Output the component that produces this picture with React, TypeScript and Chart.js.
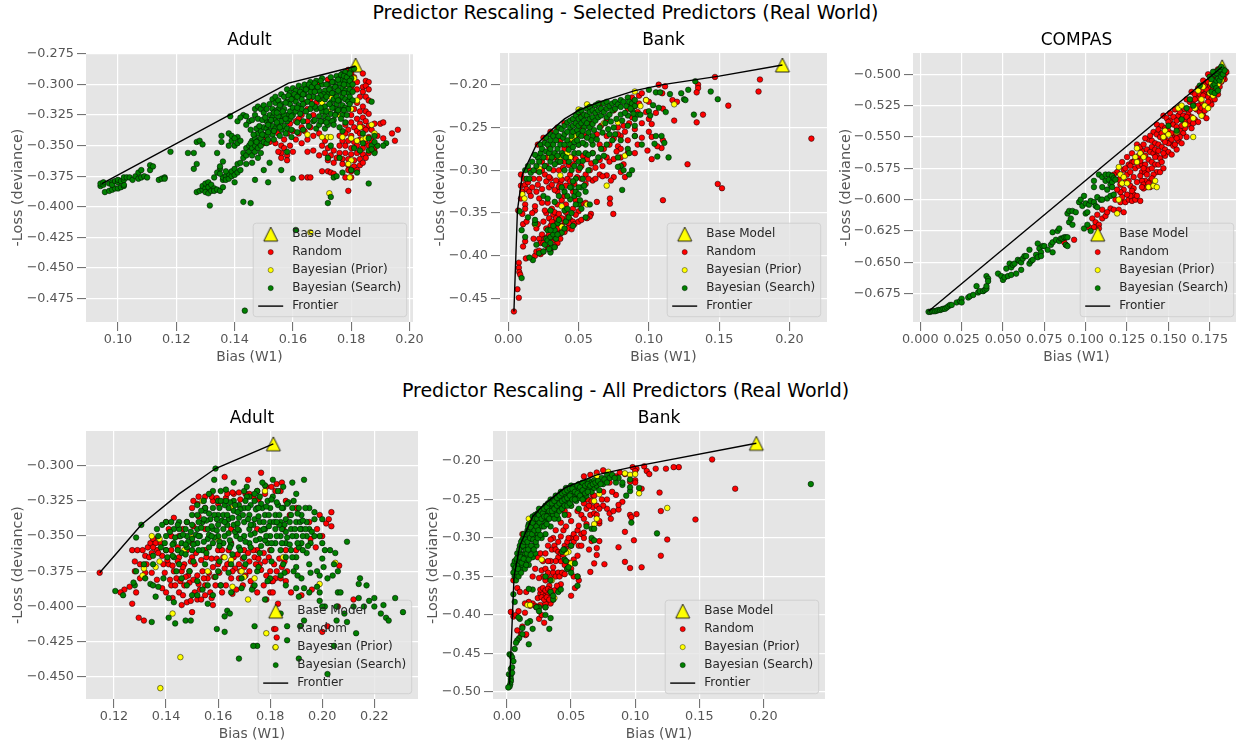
import React, { useEffect, useRef } from "react";
import { Chart, registerables } from "chart.js";

Chart.register(...registerables);

type Pt = number[];

// ---------- Selected predictors: Adult ----------
const adultSelBase: Pt[] = [[0.1815, -0.284]];
const adultSelFrontier: Pt[] = [[0.0945, -0.381], [0.1585, -0.2988], [0.17, -0.292], [0.1815, -0.285]];
const adultSelRandom: Pt[] = [
[.179,-.288],[.18,-.291],[.179,-.295],[.181,-.294],[.18,-.298],[.182,-.298],[.184,-.291],[.18,-.302],[.182,-.304],[.184,-.302],[.185,-.297],[.186,-.298],[.185,-.301],[.184,-.306],[.186,-.304],[.183,-.31],[.185,-.31],[.186,-.313],[.182,-.315],[.184,-.318],[.181,-.32],[.183,-.322],[.185,-.322],[.186,-.324],[.18,-.325],[.182,-.328],[.184,-.327],[.18,-.331],[.183,-.332],[.185,-.33],[.178,-.333],[.181,-.335],[.184,-.335],[.186,-.334],[.188,-.332],[.179,-.337],[.182,-.338],[.185,-.337],[.187,-.337],[.19,-.332],[.191,-.331],[.194,-.34],[.196,-.337],[.195,-.346],[.191,-.344],[.189,-.342],[.178,-.34],[.18,-.342],[.183,-.34],[.186,-.343],[.176,-.342],[.177,-.346],[.179,-.346],[.181,-.347],[.183,-.345],[.185,-.348],[.187,-.346],[.176,-.35],[.178,-.35],[.18,-.352],[.182,-.35],[.184,-.352],[.186,-.35],[.188,-.352],[.17,-.35],[.172,-.352],[.174,-.354],[.176,-.356],[.178,-.356],[.18,-.357],[.182,-.356],[.184,-.357],[.186,-.356],[.188,-.355],[.171,-.356],[.173,-.358],[.175,-.36],[.177,-.361],[.179,-.361],[.181,-.362],[.183,-.361],[.185,-.36],[.172,-.362],[.174,-.364],[.177,-.365],[.179,-.366],[.181,-.367],[.183,-.366],[.184,-.364],[.18,-.371],[.179,-.37],[.182,-.37],[.17,-.371],[.172,-.371],[.173,-.372],[.174,-.373],[.178,-.376],[.18,-.376],[.163,-.376],[.165,-.376],[.166,-.376],[.179,-.387],
[.152,-.347],[.154,-.348],[.156,-.35],[.157,-.345],[.158,-.34],[.16,-.338],[.162,-.34],[.164,-.338],[.166,-.335],[.161,-.345],[.163,-.348],[.165,-.345],[.167,-.342],[.169,-.34],[.157,-.352],[.159,-.35],[.156,-.356],[.158,-.358],[.155,-.355],[.16,-.355],[.158,-.362],[.156,-.36],[.163,-.335],[.165,-.33],[.163,-.325],[.165,-.32],[.167,-.325],[.161,-.33],[.165,-.355],[.167,-.354],[.169,-.358],[.171,-.346],[.166,-.312],[.168,-.305],[.168,-.315],[.155,-.34],[.151,-.344],[.15,-.348],[.159,-.332],[.162,-.328],[.164,-.315],[.169,-.3],[.172,-.296],[.176,-.297]
];
const adultSelPrior: Pt[] = [[.181,-.295],[.182,-.313],[.18,-.32],[.183,-.335],[.188,-.34],[.187,-.333],[.18,-.344],[.177,-.343],[.172,-.343],[.17,-.343],[.173,-.343],[.18,-.362],[.179,-.365],[.182,-.346],[.184,-.345],[.185,-.344],[.1725,-.389],[.166,-.421],[.1795,-.376],[.158,-.329],[.165,-.341],[.173,-.31],[.172,-.322],[.17,-.315],[.176,-.325],[.178,-.3]];
const adultSelSearch: Pt[] = [
[.094,-.383],[.094,-.381],[.095,-.382],[.095,-.38],[.0955,-.388],[.097,-.387],[.098,-.386],[.099,-.385],[.1,-.385],[.101,-.384],[.102,-.383],[.102,-.382],[.097,-.381],[.098,-.38],[.098,-.382],[.099,-.379],[.1,-.38],[.1,-.378],[.101,-.379],[.102,-.378],[.102,-.376],[.103,-.376],[.104,-.376],[.105,-.378],[.106,-.375],[.107,-.377],[.107,-.372],[.108,-.37],[.108,-.376],[.109,-.375],[.11,-.376],[.111,-.37],[.111,-.366],[.112,-.367],[.114,-.378],[.115,-.377],[.116,-.376],[.116,-.377],[.118,-.355],
[.127,-.388],[.128,-.387],[.129,-.386],[.129,-.383],[.13,-.385],[.13,-.381],[.13,-.388],[.131,-.38],[.131,-.384],[.131,-.389],[.132,-.387],[.132,-.382],[.133,-.385],[.133,-.387],[.134,-.386],[.135,-.387],[.136,-.384],[.136,-.378],[.136,-.376],[.137,-.375],[.137,-.378],[.138,-.377],[.138,-.373],[.139,-.375],[.139,-.371],[.14,-.374],[.14,-.369],[.141,-.372],[.141,-.365],[.142,-.364],[.142,-.37],[.135,-.369],[.134,-.372],[.133,-.376],[.135,-.373],[.137,-.371],
[.1435,-.485],[.143,-.396],[.1455,-.397],[.1315,-.399],[.172,-.397],[.173,-.392],[.161,-.419],[.186,-.381],[.16,-.377],[.1515,-.38],[.147,-.378],[.14,-.38],[.156,-.37],[.15,-.37],[.152,-.364],[.158,-.355],[.127,-.347],[.128,-.346],[.129,-.349],[.124,-.356],[.126,-.356],[.127,-.365],[.126,-.369],[.134,-.356],[.136,-.363],[.135,-.367],[.1355,-.342],[.1355,-.347],[.138,-.35],[.139,-.346],[.14,-.35],[.141,-.348],[.1385,-.326],[.187,-.314],[.192,-.348],[.191,-.35],[.187,-.35],[.189,-.35],[.186,-.354],[.188,-.356],[.184,-.34],[.188,-.342],[.18,-.37],[.174,-.376],[.175,-.375],[.144,-.365],[.146,-.364],[.148,-.36],
[.138,-.34],[.139,-.342],[.141,-.343],[.14,-.344],[.142,-.346],[.141,-.33],[.143,-.325],[.142,-.327],[.144,-.326],[.145,-.33],[.144,-.333],[.146,-.329],[.147,-.32],[.148,-.318],[.149,-.32],[.147,-.325],[.148,-.328],[.15,-.317],[.15,-.323],[.151,-.32],[.152,-.316],[.152,-.325],[.153,-.312],[.153,-.32],[.154,-.315],[.154,-.31],[.155,-.313],[.155,-.32],[.156,-.308],[.156,-.316],[.156,-.326],[.157,-.31],[.157,-.32],[.158,-.304],[.158,-.314],[.158,-.325],
[.143,-.36],[.143,-.356],[.144,-.352],[.144,-.358],[.145,-.35],[.145,-.355],[.146,-.346],[.146,-.352],[.146,-.358],[.147,-.344],[.147,-.35],[.147,-.355],[.148,-.34],[.148,-.346],[.148,-.352],[.149,-.338],[.149,-.344],[.149,-.35],[.149,-.356],[.15,-.335],[.15,-.341],[.15,-.347],[.151,-.33],[.151,-.336],[.151,-.342],[.151,-.348],[.152,-.331],[.152,-.338],[.153,-.327],[.153,-.334],[.153,-.341],[.154,-.322],[.154,-.329],[.154,-.336],[.155,-.326],[.155,-.333],[.156,-.33],[.156,-.337],[.157,-.325],[.157,-.334],[.158,-.33],[.158,-.336],[.159,-.307],[.159,-.316],[.159,-.322],[.159,-.328],[.16,-.303],[.16,-.311],[.16,-.319],[.16,-.325],[.161,-.305],[.161,-.314],[.161,-.322],[.162,-.301],[.162,-.309],[.162,-.317],[.163,-.304],[.163,-.312],[.163,-.32],[.164,-.3],[.164,-.308],[.165,-.303],[.165,-.314],[.166,-.298],[.166,-.306],[.166,-.32],[.167,-.302],[.167,-.31],[.167,-.33],[.168,-.297],[.168,-.32],[.168,-.336],[.169,-.305],[.169,-.312],[.169,-.326],[.169,-.333],[.17,-.295],[.17,-.3],[.17,-.322],[.17,-.33],[.171,-.305],[.171,-.312],[.171,-.318],[.171,-.326],[.171,-.336],[.172,-.3],[.172,-.308],[.172,-.328],[.172,-.333],[.173,-.294],[.173,-.303],[.173,-.315],[.173,-.324],[.174,-.298],[.174,-.307],[.174,-.312],[.174,-.319],[.174,-.329],[.175,-.293],[.175,-.302],[.175,-.31],[.175,-.316],[.175,-.323],[.176,-.299],[.176,-.306],[.176,-.313],[.176,-.32],[.177,-.291],[.177,-.296],[.177,-.303],[.177,-.31],[.177,-.317],[.177,-.325],[.178,-.29],[.178,-.297],[.178,-.305],[.178,-.312],[.178,-.319],[.179,-.3],[.179,-.307],[.179,-.314],[.18,-.288],[.18,-.295],[.179,-.32],[.181,-.287],[.172,-.36],[.173,-.35],[.186,-.344],[.181,-.352],[.183,-.354],[.178,-.331],[.177,-.372],[.176,-.36],
[.1455,-.337],[.1465,-.341],[.1475,-.336],[.1485,-.334],[.1495,-.329],[.1505,-.327],[.1515,-.333],[.1525,-.329],[.1535,-.323],[.1545,-.331],[.1555,-.317],[.1565,-.322],[.1575,-.315],[.1585,-.309],[.1595,-.312],[.1605,-.308],[.1615,-.31],[.1625,-.306],[.1635,-.308],[.1645,-.304],[.1655,-.3],[.1665,-.302],[.1675,-.299],[.1685,-.302],[.1695,-.297],[.1705,-.308],[.1715,-.3],[.1725,-.304],[.1735,-.298],[.1745,-.302],[.1755,-.296],[.1765,-.292],[.1775,-.293],[.1785,-.294],[.1795,-.291],[.1455,-.348],[.1475,-.347],[.1495,-.341],[.1515,-.339],[.1535,-.338],[.1555,-.335],[.1575,-.328],[.1595,-.326],[.1615,-.319],[.1635,-.316],[.1655,-.31],[.1675,-.306],[.1695,-.309],[.1715,-.31],[.1735,-.307],[.1755,-.305],[.1775,-.3],[.1795,-.297],[.1515,-.345],[.1535,-.345],[.1555,-.342],[.1575,-.34],[.1595,-.337],[.1615,-.331],[.1635,-.33],[.1655,-.326],[.1675,-.318],[.1695,-.319],[.1715,-.322],[.1735,-.319],[.1755,-.313],[.1775,-.307],[.1795,-.304],[.1595,-.343],[.1615,-.339],[.1635,-.337],[.1655,-.334],[.1675,-.329],[.1695,-.33],[.1715,-.331],[.1735,-.33],[.1755,-.321],[.1775,-.321],[.1795,-.31],[.1805,-.3],[.1805,-.306],[.1805,-.313],[.1795,-.316],[.177,-.338],[.184,-.348],[.187,-.353],[.176,-.335],[.182,-.372],[.188,-.347],[.174,-.333],[.1545,-.323],[.1625,-.324],[.1645,-.322],[.1665,-.316],[.1685,-.311],[.1725,-.316],[.1745,-.325],[.1765,-.328],[.1785,-.325]
];

// ---------- Selected predictors: Bank ----------
const bankSelBase: Pt[] = [[0.195, -0.177]];
const bankSelFrontier: Pt[] = [[.004,-.465],[.0065,-.347],[.01,-.305],[.02,-.27],[.03,-.254],[.04,-.24],[.05,-.23],[.065,-.22],[.09,-.207],[.11,-.2],[.15,-.19],[.195,-.177]];
const bankSelRandom: Pt[] = [
[.2156,-.263],[.179,-.194],[.178,-.208],[.147,-.191],[.1565,-.2245],[.149,-.316],[.152,-.321],[.1275,-.293],[.11,-.335],[.1385,-.235],[.134,-.244],[.118,-.242],[.135,-.2],[.135,-.204],[.134,-.209],[.107,-.2],[.1115,-.202],[.1095,-.21],[.1168,-.218],[.12,-.22],[.105,-.233],[.11,-.228],[.109,-.274],[.106,-.272],[.099,-.277],[.102,-.287],[.11,-.265],[.102,-.261],[.102,-.246],[.1,-.255],[.0723,-.333],[.0723,-.339],[.0747,-.351],[.063,-.337],[.0588,-.351],[.058,-.354],[.056,-.356],
[.009,-.305],[.011,-.31],[.009,-.318],[.012,-.317],[.014,-.314],[.01,-.325],[.013,-.322],[.015,-.325],[.009,-.333],[.012,-.34],[.012,-.345],[.007,-.347],[.01,-.351],[.0075,-.408],[.0075,-.414],[.0078,-.419],[.0085,-.422],[.0065,-.439],[.0075,-.449],[.004,-.465],[.0105,-.363],[.0105,-.389],[.012,-.383],[.0125,-.403],[.019,-.4],[.02,-.395],[.022,-.394],[.023,-.398],[.025,-.395],[.018,-.38],[.019,-.347],[.019,-.342],[.019,-.363],[.02,-.368],[.021,-.363],[.022,-.333],[.022,-.38],[.023,-.385],[.024,-.375],[.026,-.38],
[.025,-.36],[.027,-.35],[.028,-.338],[.029,-.32],[.03,-.31],[.031,-.345],[.032,-.352],[.033,-.36],[.034,-.356],[.03,-.365],[.031,-.372],[.028,-.378],[.032,-.382],[.034,-.375],[.036,-.37],[.035,-.385],[.037,-.38],[.038,-.365],[.04,-.36],[.042,-.355],[.044,-.358],[.046,-.36],[.047,-.363],[.05,-.36],[.052,-.358],[.05,-.348],[.048,-.335],[.046,-.325],[.035,-.325],[.037,-.315],[.034,-.312],[.038,-.335],[.04,-.33],[.042,-.31],[.044,-.305],[.05,-.3],[.052,-.295],[.055,-.305],[.058,-.3],[.06,-.312],[.062,-.31],[.065,-.305],[.067,-.295],[.07,-.285],[.072,-.29],[.075,-.308],[.07,-.306],[.067,-.307],[.08,-.302],[.083,-.308],[.082,-.293],[.075,-.287],[.078,-.272],[.08,-.275],[.085,-.28],[.09,-.28],[.092,-.27],[.095,-.262],[.09,-.26],[.085,-.265],[.083,-.255],[.08,-.26],[.078,-.25],[.09,-.252],[.095,-.245],[.1,-.24],[.098,-.232],[.09,-.225],[.088,-.215],[.093,-.213],[.095,-.21],[.087,-.222],[.085,-.228],[.098,-.218],[.1,-.22],[.093,-.222],[.015,-.3],[.018,-.31],[.02,-.3],[.022,-.31],[.017,-.32],[.02,-.325],[.024,-.29],[.021,-.27],[.025,-.262],[.03,-.255],[.035,-.25],[.028,-.285],[.04,-.29],[.045,-.285],[.05,-.27],[.055,-.26],[.06,-.28],[.065,-.27],[.07,-.26],[.042,-.275],[.036,-.29],[.032,-.3],[.026,-.305],[.04,-.245],[.05,-.233],[.058,-.226],[.065,-.222],[.07,-.24],[.075,-.23],
[.021,-.317],[.024,-.322],[.027,-.313],[.029,-.308],[.031,-.317],[.033,-.323],[.036,-.319],[.038,-.311],[.041,-.318],[.044,-.313],[.047,-.316],[.049,-.308],[.052,-.31],[.055,-.316],[.057,-.31],[.024,-.338],[.026,-.347],[.029,-.356],[.031,-.36],[.033,-.349],[.036,-.351],[.038,-.356],[.041,-.349],[.043,-.362],[.045,-.369],[.048,-.352],[.052,-.339],[.055,-.338],[.027,-.368],[.029,-.375],[.033,-.379],[.035,-.368],[.037,-.374],[.04,-.372],[.042,-.368],[.028,-.39],[.03,-.394],[.033,-.389],[.025,-.385],[.036,-.3],[.039,-.297],[.043,-.294],[.046,-.293],[.048,-.287],[.053,-.283],[.056,-.287],[.059,-.292],[.062,-.297],[.065,-.288],[.068,-.275],[.072,-.27],[.075,-.263],[.078,-.258],[.082,-.248],[.086,-.245],[.088,-.238],[.092,-.232],[.08,-.285],[.073,-.312],[.077,-.278],[.024,-.3],[.027,-.295],[.029,-.272],[.033,-.285],[.037,-.265],[.04,-.275],[.045,-.268],[.048,-.26],[.053,-.25],[.058,-.245],[.063,-.258],[.066,-.248],[.016,-.33],[.013,-.36],[.017,-.35],[.046,-.345],[.041,-.34],[.035,-.34]
];
const bankSelPrior: Pt[] = [[.118,-.223],[.09,-.208],[.098,-.218],[.094,-.225],[.083,-.283],[.07,-.318],[.068,-.245],[.078,-.244],[.056,-.223],[.05,-.229],[.03,-.284],[.037,-.285],[.044,-.285],[.037,-.306],[.047,-.26],[.045,-.263],[.019,-.363],[.038,-.366],[.038,-.342],[.056,-.34],[.01,-.328],[.0115,-.333],[.022,-.298],[.042,-.28]];
const bankSelSearch: Pt[] = [
[.133,-.196],[.128,-.206],[.144,-.208],[.149,-.217],[.123,-.21],[.115,-.211],[.125,-.217],[.126,-.218],[.1,-.206],[.105,-.209],[.108,-.209],[.103,-.224],[.107,-.227],[.112,-.232],[.1,-.231],[.101,-.236],[.132,-.235],[.105,-.26],[.109,-.26],[.111,-.268],[.104,-.269],[.106,-.284],[.114,-.285],[.095,-.27],[.09,-.26],[.085,-.275],[.086,-.28],[.078,-.285],[.08,-.295],[.081,-.323],[.086,-.305],[.088,-.3],[.082,-.3],[.078,-.296],
[.008,-.348],[.0095,-.37],[.012,-.378],[.014,-.355],[.0175,-.405],[.015,-.402],[.0095,-.426],[.019,-.362],[.019,-.358],[.02,-.387],[.022,-.397],[.025,-.395],[.026,-.387],[.027,-.38],[.028,-.382],[.03,-.378],[.03,-.396],[.031,-.39],[.032,-.375],[.033,-.37],[.034,-.38],[.035,-.362],[.036,-.358],[.038,-.373],[.04,-.368],[.041,-.36],[.043,-.355],[.045,-.35],[.046,-.365],[.05,-.34],[.052,-.345],[.055,-.355],[.058,-.34],[.025,-.33],[.028,-.333],[.03,-.347],[.033,-.337],[.04,-.347],[.042,-.345],[.044,-.334],[.045,-.32],[.047,-.33],[.048,-.325],[.05,-.328],[.052,-.32],[.055,-.325],[.053,-.31],[.057,-.3],[.06,-.28],[.062,-.29],[.064,-.285],[.066,-.275],[.068,-.283],[.07,-.27],[.072,-.258],[.074,-.265],[.076,-.258],[.08,-.265],[.085,-.248],[.09,-.248],[.092,-.235],[.09,-.24],
[.012,-.3],[.013,-.31],[.015,-.31],[.016,-.303],[.014,-.295],[.018,-.3],[.017,-.29],[.02,-.295],[.021,-.285],[.019,-.282],[.022,-.29],[.023,-.28],[.023,-.27],[.024,-.275],[.025,-.285],[.026,-.268],[.027,-.278],[.027,-.262],[.028,-.27],[.029,-.28],[.03,-.265],[.03,-.275],[.03,-.258],[.032,-.26],[.032,-.27],[.033,-.28],[.034,-.255],[.034,-.265],[.035,-.275],[.036,-.25],[.036,-.26],[.037,-.27],[.038,-.28],[.038,-.252],[.039,-.262],[.04,-.248],[.04,-.258],[.04,-.27],[.042,-.244],[.042,-.255],[.042,-.265],[.044,-.242],[.044,-.25],[.044,-.27],[.045,-.26],[.046,-.24],[.046,-.248],[.046,-.255],[.047,-.28],[.048,-.236],[.048,-.245],[.049,-.253],[.05,-.232],[.05,-.24],[.05,-.248],[.05,-.258],[.05,-.27],[.052,-.23],[.052,-.238],[.052,-.245],[.052,-.26],[.054,-.235],[.054,-.242],[.054,-.25],[.055,-.27],[.056,-.228],[.056,-.236],[.056,-.245],[.058,-.226],[.058,-.232],[.058,-.24],[.058,-.25],[.06,-.23],[.06,-.238],[.06,-.246],[.06,-.26],[.062,-.224],[.062,-.233],[.062,-.242],[.064,-.222],[.064,-.23],[.064,-.238],[.066,-.228],[.066,-.236],[.068,-.222],[.068,-.232],[.07,-.22],[.07,-.228],[.07,-.238],[.072,-.225],[.072,-.235],[.074,-.222],[.074,-.23],[.076,-.22],[.076,-.228],[.078,-.223],[.08,-.218],[.08,-.226],[.08,-.235],[.082,-.22],[.084,-.225],[.085,-.215],[.086,-.22],[.088,-.222],[.088,-.23],[.09,-.218],[.09,-.225],[.094,-.235],[.035,-.29],[.04,-.3],[.045,-.3],[.05,-.29],[.055,-.28],[.05,-.28],[.048,-.31],[.06,-.27],[.043,-.29],[.03,-.29],
[.053,-.254],[.057,-.256],[.061,-.253],[.065,-.25],[.069,-.245],[.073,-.243],[.077,-.24],[.081,-.242],[.085,-.236],[.089,-.234],[.071,-.252],[.067,-.256],[.063,-.264],[.059,-.265],[.075,-.25],[.083,-.233],[.087,-.228],[.047,-.267],[.043,-.276],[.039,-.283],[.035,-.283],[.031,-.285],[.026,-.295],[.022,-.302],[.029,-.298],[.033,-.293],[.037,-.29],[.041,-.285],[.053,-.268],[.056,-.262],[.046,-.273],[.049,-.265],[.051,-.297],[.053,-.289],[.057,-.282],[.046,-.313],[.05,-.32],[.054,-.318],[.047,-.295],[.044,-.32],[.04,-.325],[.042,-.33],[.036,-.33],[.038,-.32],[.048,-.34],[.051,-.335],[.028,-.37],[.03,-.385],[.035,-.375],[.03,-.37],[.032,-.365],[.033,-.39],[.029,-.392]
];

// ---------- Selected predictors: COMPAS ----------
const compasBase: Pt[] = [[0.1825, -0.494]];
const compasFrontier: Pt[] = [[.005,-.689],[.1825,-.494]];
const compasRandom: Pt[] = [
[.088,-.636],[.087,-.634],[.093,-.632],[.104,-.615],[.106,-.618],[.108,-.62],[.11,-.615],[.107,-.612],[.112,-.613],[.102,-.622],[.105,-.622],[.108,-.623],[.115,-.607],[.11,-.608],[.113,-.61],[.117,-.608],[.12,-.608],[.123,-.61],[.118,-.6],[.121,-.602],[.124,-.602],[.126,-.6],[.128,-.601],[.13,-.6],[.133,-.601],[.129,-.596],[.127,-.597],[.131,-.597],[.123,-.592],[.121,-.594],[.119,-.592],[.121,-.588],[.124,-.586],[.119,-.578],[.117,-.58],[.121,-.58],[.123,-.576],[.125,-.58],[.127,-.578],[.129,-.582],[.126,-.572],[.128,-.57],[.13,-.575],[.132,-.573],[.134,-.572],[.136,-.572],[.13,-.568],[.128,-.563],[.132,-.565],[.134,-.561],[.136,-.565],[.138,-.568],[.14,-.57],[.142,-.572],[.143,-.578],[.141,-.58],[.139,-.585],[.136,-.585],[.134,-.585],[.135,-.588],[.137,-.59],[.139,-.59],[.145,-.578],[.147,-.575],[.134,-.578],[.131,-.556],[.133,-.558],[.135,-.556],[.137,-.56],[.139,-.562],[.141,-.563],[.143,-.565],[.145,-.567],[.138,-.552],[.14,-.553],[.142,-.555],[.144,-.556],[.146,-.558],[.148,-.56],[.15,-.562],[.152,-.564],[.141,-.546],[.143,-.548],[.145,-.55],[.147,-.552],[.149,-.553],[.151,-.555],[.153,-.557],[.155,-.56],[.143,-.54],[.146,-.541],[.148,-.543],[.15,-.545],[.152,-.547],[.154,-.55],[.156,-.553],[.158,-.555],[.147,-.533],[.149,-.535],[.151,-.537],[.153,-.54],[.155,-.542],[.157,-.545],[.159,-.547],[.161,-.55],[.151,-.531],[.154,-.528],[.156,-.533],[.158,-.536],[.16,-.538],[.162,-.54],[.164,-.543],[.157,-.526],[.16,-.528],[.162,-.532],[.164,-.534],[.166,-.536],[.168,-.538],[.161,-.52],[.163,-.522],[.165,-.524],[.167,-.528],[.169,-.53],[.171,-.533],[.173,-.535],[.164,-.514],[.166,-.516],[.168,-.519],[.17,-.522],[.172,-.525],[.174,-.527],[.176,-.524],[.168,-.511],[.17,-.513],[.172,-.516],[.174,-.518],[.176,-.52],[.178,-.52],[.18,-.516],[.171,-.505],[.173,-.507],[.175,-.51],[.177,-.512],[.179,-.51],[.181,-.51],[.174,-.5],[.176,-.502],[.178,-.504],[.18,-.504],[.182,-.506],[.184,-.5],[.185,-.498],[.184,-.504],[.178,-.498],[.18,-.496],[.125,-.566],[.122,-.57],
[.127,-.589],[.129,-.591],[.126,-.585],[.131,-.586],[.133,-.581],[.136,-.578],[.138,-.576],[.14,-.575],[.142,-.566],[.144,-.572],[.146,-.57],[.148,-.565],[.15,-.555],[.152,-.552],[.154,-.556],[.148,-.549],[.144,-.544],[.146,-.547],[.15,-.538],[.153,-.534],[.155,-.537],[.157,-.53],[.159,-.533],[.161,-.534],[.163,-.537],[.165,-.539],[.163,-.528],[.166,-.52],[.168,-.525],[.17,-.527],[.172,-.529],[.174,-.522],[.169,-.516],[.171,-.517],[.173,-.512],[.175,-.515],[.177,-.516],[.172,-.509],[.174,-.506],[.176,-.508],[.178,-.509],[.177,-.503],[.179,-.501],[.181,-.502],[.183,-.503],[.135,-.575],[.137,-.58],[.14,-.583],[.133,-.569],[.131,-.569],[.129,-.57],[.127,-.573],[.124,-.575],[.12,-.584],[.125,-.596],[.128,-.593],[.122,-.598],[.135,-.591],[.134,-.59],[.138,-.587],[.136,-.551],[.139,-.549],[.14,-.558],[.142,-.56],[.144,-.561],[.147,-.563],[.148,-.554],[.155,-.548],[.157,-.55],[.16,-.543],[.158,-.541],[.155,-.551]
];
const compasPrior: Pt[] = [[.131,-.559],[.133,-.563],[.12,-.574],[.121,-.58],[.123,-.582],[.122,-.587],[.125,-.587],[.12,-.6],[.119,-.611],[.13,-.566],[.131,-.57],[.138,-.59],[.141,-.589],[.142,-.585],[.143,-.59],[.135,-.566],[.147,-.55],[.148,-.545],[.15,-.548],[.156,-.527],[.16,-.54],[.165,-.535],[.17,-.52],[.172,-.525],[.174,-.527],[.175,-.515],[.177,-.517],[.168,-.513],[.171,-.51],[.18,-.508],[.182,-.505],[.176,-.507],[.165,-.55],[.155,-.546],[.158,-.525],[.166,-.527],[.17,-.533]];
const compasSearch: Pt[] = [
[.005,-.6895],[.006,-.6895],[.007,-.689],[.008,-.689],[.009,-.689],[.01,-.6885],[.011,-.688],[.012,-.688],[.013,-.6875],[.014,-.687],[.015,-.687],[.016,-.686],[.017,-.685],[.018,-.684],[.019,-.684],[.022,-.682],[.024,-.681],[.025,-.679],[.025,-.682],[.029,-.678],[.03,-.677],[.032,-.676],[.034,-.669],[.035,-.674],[.036,-.673],[.038,-.673],[.039,-.672],[.04,-.671],[.04,-.669],[.04,-.661],[.041,-.663],[.041,-.665],
[.047,-.659],[.049,-.661],[.05,-.664],[.051,-.662],[.052,-.655],[.053,-.661],[.054,-.651],[.055,-.66],[.055,-.654],[.056,-.652],[.057,-.651],[.058,-.659],[.059,-.648],[.06,-.649],[.061,-.656],[.061,-.65],[.062,-.647],[.063,-.645],[.064,-.645],[.066,-.651],[.066,-.64],[.067,-.649],[.068,-.648],[.07,-.644],[.071,-.646],[.071,-.635],[.072,-.639],[.073,-.642],[.073,-.645],[.074,-.637],[.075,-.637],[.077,-.64],[.079,-.636],[.08,-.634],[.08,-.642],[.08,-.626],[.082,-.632],[.083,-.625],[.084,-.623],[.084,-.633],[.085,-.631],[.086,-.631],[.087,-.63],[.088,-.63],[.089,-.63],[.088,-.636],[.089,-.637],
[.089,-.611],[.09,-.609],[.09,-.618],[.091,-.615],[.092,-.609],[.092,-.62],[.094,-.61],[.096,-.602],[.097,-.6],[.098,-.605],[.099,-.597],[.1,-.603],[.1,-.611],[.101,-.61],[.102,-.604],[.103,-.601],[.105,-.602],[.106,-.605],[.107,-.606],[.099,-.623],[.101,-.62],[.103,-.625],[.107,-.598],[.109,-.6],[.11,-.6],[.105,-.585],[.105,-.59],[.108,-.58],[.11,-.582],[.11,-.59],[.112,-.58],[.112,-.585],[.113,-.592],[.113,-.599],[.114,-.58],[.114,-.584],[.115,-.588],[.115,-.597],[.116,-.581],[.116,-.586],[.116,-.59],[.117,-.583],[.117,-.596],[.118,-.584],
[.176,-.514],[.177,-.509],[.178,-.508],[.178,-.515],[.179,-.505],[.179,-.511],[.18,-.503],[.18,-.513],[.181,-.5],[.181,-.505],[.182,-.497],[.182,-.502],[.183,-.496],[.183,-.5],[.184,-.497],[.178,-.5],[.179,-.499],[.175,-.502],[.176,-.504],[.169,-.509],[.165,-.525],[.161,-.527],[.158,-.536],[.155,-.545],[.15,-.541],[.163,-.52],[.177,-.498],[.18,-.497],[.181,-.496],[.182,-.494]
];

// ---------- All predictors: Adult ----------
const adultAllBase: Pt[] = [[0.1812, -0.2845]];
const adultAllFrontier: Pt[] = [[.1145,-.376],[.1305,-.342],[.145,-.32],[.159,-.302],[.1812,-.2845]];
const adultAllRandom: Pt[] = [
[.1145,-.376],[.1765,-.305],[.1625,-.308],[.1715,-.31],[.2035,-.333],[.2015,-.341],[.2035,-.343],[.2065,-.371],[.127,-.398],[.1285,-.39],[.126,-.386],[.124,-.388],[.1225,-.39],[.127,-.36],[.129,-.36],[.128,-.368],[.13,-.37],[.128,-.375],[.13,-.38],[.132,-.376],[.131,-.36],[.132,-.364],[.133,-.358],[.134,-.355],[.135,-.352],[.136,-.355],[.137,-.351],[.138,-.355],[.14,-.34],[.141,-.345],[.143,-.337],[.14,-.36],[.142,-.36],[.139,-.37],[.141,-.37],[.143,-.375],[.145,-.365],[.147,-.37],[.149,-.375],[.151,-.37],[.15,-.365],[.148,-.36],[.146,-.375],[.144,-.38],[.142,-.385],[.14,-.39],[.145,-.39],[.147,-.385],[.149,-.383],[.151,-.39],[.153,-.388],[.155,-.385],[.157,-.39],[.159,-.385],[.152,-.395],[.155,-.392],[.148,-.397],[.146,-.399],[.15,-.404],[.1295,-.408],[.1315,-.41],[.158,-.399],[.156,-.38],[.154,-.375],[.152,-.378],[.158,-.372],[.16,-.37],[.162,-.365],[.164,-.36],[.166,-.365],[.168,-.37],[.17,-.372],[.172,-.368],[.174,-.365],[.176,-.37],[.178,-.368],[.18,-.375],[.182,-.38],[.184,-.38],[.186,-.382],[.18,-.39],[.1785,-.395],[.181,-.39],[.183,-.398],[.1815,-.416],[.1825,-.422],[.2,-.418],[.202,-.414],[.206,-.4],[.212,-.395],[.196,-.388],[.192,-.392],[.188,-.39],[.175,-.39],[.172,-.375],[.168,-.38],[.165,-.38],[.163,-.385],[.161,-.385],[.167,-.388],[.15,-.33],[.152,-.327],[.155,-.33],[.158,-.325],[.16,-.327],[.163,-.323],[.166,-.32],[.168,-.319],[.172,-.32],[.175,-.318],[.178,-.32],[.182,-.318],[.184,-.318],[.186,-.325],[.19,-.33],[.195,-.34],[.198,-.345],[.2,-.35],[.19,-.36],[.186,-.36],[.18,-.36],[.175,-.36],[.17,-.36],[.165,-.355],[.16,-.36],[.155,-.36],[.15,-.355],[.145,-.35],[.142,-.35],[.165,-.345],[.175,-.345],[.185,-.345],[.155,-.345],[.148,-.34],
[.1335,-.365],[.1365,-.36],[.1385,-.364],[.1405,-.367],[.1425,-.371],[.1445,-.368],[.1465,-.372],[.1485,-.378],[.1505,-.381],[.1525,-.384],[.1545,-.38],[.1565,-.376],[.1585,-.379],[.1605,-.376],[.1625,-.373],[.1645,-.369],[.1665,-.373],[.1685,-.375],[.1705,-.378],[.1725,-.382],[.1745,-.37],[.1765,-.374],[.1785,-.378],[.1805,-.382],[.1825,-.375],[.1845,-.372],[.1865,-.375],[.1395,-.376],[.1415,-.381],[.1435,-.385],[.1455,-.382],[.1475,-.379],[.1495,-.368],[.1515,-.362],[.1535,-.367],[.1555,-.365],[.1575,-.366],[.1595,-.366],[.1615,-.36],[.1635,-.37],[.1655,-.375],[.1675,-.363],[.1695,-.366],[.1715,-.362],[.1735,-.36],[.1755,-.366],[.1775,-.362],[.1795,-.365],[.1815,-.37],[.1835,-.366],[.1855,-.368],[.155,-.322],[.1505,-.325],[.1525,-.322],[.1575,-.322],[.1595,-.323],[.1635,-.32],[.1655,-.319],[.1685,-.324],[.1705,-.32],[.1735,-.322],[.1755,-.324],[.1785,-.315],[.1825,-.313],[.1805,-.315],[.1845,-.312],[.1875,-.335],[.1955,-.352],[.1975,-.358],[.2025,-.338],[.199,-.335],[.1525,-.336],[.1505,-.343],[.1445,-.358],[.1465,-.345],[.137,-.362],[.135,-.358],[.1345,-.362],[.1325,-.37],[.1345,-.376],[.1365,-.381],[.1385,-.387],[.1425,-.394],[.1465,-.392],[.1495,-.396],[.1535,-.395],[.1575,-.394],[.1615,-.39],[.1655,-.391],[.1695,-.385],[.1735,-.386],[.1775,-.385],[.181,-.382]
];
const adultAllPrior: Pt[] = [[.1345,-.35],[.1375,-.352],[.136,-.372],[.1375,-.368],[.1315,-.373],[.131,-.378],[.1425,-.405],[.1455,-.436],[.1378,-.458],[.1785,-.419],[.182,-.429],[.1715,-.395],[.1655,-.386],[.174,-.38],[.17,-.379],[.1625,-.365],[.165,-.367],[.199,-.384],[.205,-.369],[.185,-.365],[.178,-.318],[.154,-.325],[.15,-.351],[.147,-.36],[.156,-.375],[.169,-.375],[.16,-.352],[.165,-.33]];
const adultAllSearch: Pt[] = [
[.159,-.302],[.1305,-.342],[.1285,-.351],[.1205,-.389],[.1235,-.392],[.128,-.385],[.1275,-.383],[.1285,-.375],[.132,-.38],[.1315,-.37],[.135,-.364],[.134,-.384],[.135,-.385],[.137,-.386],[.136,-.393],[.1345,-.411],[.141,-.394],[.143,-.397],[.141,-.408],[.1435,-.412],[.1475,-.41],[.1495,-.41],[.15,-.392],[.152,-.392],[.156,-.398],[.158,-.392],[.1595,-.416],[.1625,-.407],[.1635,-.403],[.1645,-.405],[.1625,-.418],[.168,-.437],[.174,-.414],[.175,-.428],[.1735,-.428],[.1915,-.414],[.193,-.41],[.191,-.437],[.202,-.448],[.1865,-.424],[.184,-.405],[.1865,-.414],[.2055,-.41],[.2055,-.4],[.2085,-.405],[.2095,-.411],[.213,-.419],[.2045,-.428],[.214,-.394],[.212,-.4],[.216,-.4],[.218,-.396],[.22,-.394],[.2235,-.399],[.2225,-.405],[.2245,-.408],[.2255,-.41],[.228,-.394],[.231,-.404],[.2145,-.38],[.214,-.384],[.217,-.385],[.22,-.4],[.206,-.39],[.207,-.39],[.201,-.4],[.199,-.396],[.2,-.4],[.198,-.386],[.199,-.39],[.195,-.39],[.193,-.387],[.191,-.393],[.19,-.387],[.186,-.385],[.178,-.395],[.173,-.388],[.169,-.387],[.165,-.39],[.161,-.385],[.156,-.385],[.152,-.382],[.148,-.385],[.146,-.38],
[.195,-.345],[.197,-.338],[.196,-.347],[.199,-.35],[.2,-.355],[.201,-.36],[.203,-.36],[.205,-.362],[.2095,-.354],[.2,-.366],[.198,-.375],[.195,-.37],[.19,-.372],[.192,-.38],[.199,-.378],[.202,-.38],[.204,-.378],[.206,-.375],[.193,-.31],[.1885,-.312],[.189,-.325],[.191,-.33],[.195,-.33],[.197,-.333],[.2,-.338],[.185,-.315],[.181,-.31],[.178,-.314],[.175,-.318],[.172,-.322],[.17,-.318],[.166,-.325],[.163,-.317],[.16,-.325],[.158,-.318],[.155,-.332],[.15,-.335],[.145,-.34],[.14,-.34],[.137,-.35],
[.14,-.35],[.14,-.36],[.143,-.345],[.143,-.355],[.143,-.365],[.145,-.345],[.146,-.355],[.146,-.362],[.148,-.34],[.148,-.35],[.148,-.358],[.15,-.342],[.15,-.352],[.15,-.36],[.152,-.335],[.152,-.345],[.152,-.355],[.153,-.35],[.154,-.34],[.154,-.36],[.155,-.33],[.156,-.345],[.156,-.352],[.157,-.338],[.158,-.33],[.158,-.345],[.158,-.355],[.16,-.335],[.16,-.342],[.16,-.35],[.161,-.325],[.162,-.335],[.162,-.345],[.162,-.355],[.164,-.33],[.164,-.338],[.164,-.348],[.165,-.356],[.166,-.332],[.166,-.342],[.167,-.35],[.168,-.328],[.168,-.337],[.168,-.346],[.168,-.358],[.17,-.33],[.17,-.34],[.17,-.35],[.171,-.322],[.172,-.335],[.172,-.345],[.172,-.355],[.174,-.325],[.174,-.338],[.174,-.348],[.175,-.33],[.176,-.322],[.176,-.34],[.176,-.352],[.176,-.362],[.177,-.33],[.178,-.335],[.178,-.345],[.179,-.325],[.179,-.355],[.18,-.33],[.18,-.34],[.18,-.35],[.181,-.322],[.182,-.335],[.182,-.345],[.182,-.355],[.183,-.328],[.184,-.34],[.184,-.35],[.184,-.36],[.185,-.33],[.186,-.338],[.186,-.347],[.186,-.355],[.187,-.326],[.188,-.335],[.188,-.345],[.188,-.36],[.19,-.34],[.19,-.35],[.19,-.365],[.192,-.335],[.192,-.345],[.192,-.355],[.194,-.34],[.194,-.35],[.194,-.362],[.197,-.35],[.185,-.37],[.175,-.375],[.165,-.37],[.155,-.37],[.145,-.37],[.135,-.37],[.16,-.375],[.18,-.38],[.17,-.365],[.138,-.358],[.142,-.34],[.152,-.328],[.178,-.353],[.186,-.365],[.191,-.358],
[.1415,-.347],[.1435,-.351],[.1455,-.35],[.1475,-.345],[.1495,-.347],[.1515,-.349],[.1535,-.344],[.1555,-.339],[.1575,-.343],[.1595,-.346],[.1615,-.339],[.1635,-.342],[.1655,-.337],[.1675,-.341],[.1695,-.335],[.1715,-.338],[.1735,-.342],[.1755,-.336],[.1775,-.34],[.1795,-.343],[.1815,-.34],[.1835,-.335],[.1855,-.342],[.1875,-.34],[.1895,-.345],[.1915,-.34],[.1935,-.345],[.1955,-.355],[.1425,-.356],[.1445,-.36],[.1465,-.349],[.1485,-.354],[.1505,-.356],[.1525,-.35],[.1545,-.354],[.1565,-.349],[.1585,-.351],[.1605,-.354],[.1625,-.35],[.1645,-.353],[.1665,-.347],[.1685,-.352],[.1705,-.354],[.1725,-.349],[.1745,-.353],[.1765,-.346],[.1785,-.35],[.1805,-.355],[.1825,-.35],[.1845,-.345],[.1865,-.351],[.1885,-.35],[.1905,-.355],[.1925,-.35],[.1945,-.357],[.1425,-.364],[.1475,-.363],[.1525,-.36],[.1565,-.358],[.1605,-.357],[.1645,-.358],[.1685,-.36],[.1725,-.358],[.1765,-.357],[.1805,-.36],[.1845,-.355],[.1885,-.365],[.1925,-.36],[.1535,-.332],[.1565,-.334],[.1585,-.335],[.1605,-.33],[.1625,-.328],[.1645,-.326],[.1665,-.328],[.1685,-.331],[.1705,-.325],[.1725,-.328],[.1745,-.331],[.1765,-.327],[.1785,-.329],[.1805,-.324],[.1825,-.326],[.1845,-.33],[.1865,-.327],[.1885,-.33],[.1905,-.334],[.1925,-.339],[.1935,-.33],[.1545,-.338],[.1595,-.338],[.1635,-.335],[.1675,-.333],[.1715,-.33],[.1755,-.33],[.1795,-.335],[.1835,-.342],[.1875,-.356],[.1915,-.345],[.1725,-.342],[.1775,-.345],[.1825,-.34],[.1675,-.345],[.1625,-.34],[.1575,-.35],[.1525,-.34],[.1475,-.356],[.1445,-.342],[.1365,-.345],[.1385,-.342],[.1395,-.355],[.1405,-.365],[.1505,-.368],[.1555,-.362],[.1605,-.368],[.1655,-.363],[.1705,-.37],[.1755,-.372],[.1805,-.368],[.1855,-.376],[.1905,-.378],[.1955,-.376],[.2005,-.372],[.2045,-.37],[.189,-.375],[.184,-.378],[.179,-.382],[.174,-.385],[.169,-.38],[.164,-.376],[.159,-.379],[.154,-.388],[.149,-.375],[.144,-.375],[.139,-.38],[.166,-.312],[.171,-.315],[.177,-.312],[.183,-.318],[.163,-.325],[.19,-.32],[.161,-.318],[.1585,-.31],[.1565,-.32],[.1545,-.325],[.174,-.32]
];

// ---------- All predictors: Bank ----------
const bankAllBase: Pt[] = [[0.1945, -0.177]];
const bankAllFrontier: Pt[] = [[.002,-.49],[.003,-.45],[.0055,-.35],[.01,-.31],[.02,-.272],[.03,-.255],[.045,-.235],[.07,-.218],[.1,-.207],[.1945,-.177]];
const bankAllRandom: Pt[] = [
[.16,-.198],[.178,-.236],[.147,-.276],[.134,-.208],[.13,-.208],[.124,-.21],[.116,-.21],[.107,-.207],[.109,-.213],[.111,-.217],[.101,-.21],[.098,-.208],[.1,-.213],[.119,-.241],[.12,-.265],[.125,-.302],[.12,-.323],[.096,-.27],[.097,-.273],[.101,-.269],[.105,-.338],[.096,-.339],[.092,-.331],[.087,-.312],[.092,-.292],[.099,-.303],[.076,-.334],[.068,-.333],[.065,-.344],[.07,-.322],[.072,-.304],[.064,-.315],[.066,-.304],[.07,-.313],[.072,-.281],[.078,-.262],[.081,-.275],[.08,-.268],[.083,-.265],[.087,-.263],[.09,-.253],[.087,-.257],[.085,-.244],[.1,-.225],[.1,-.228],[.105,-.236],[.092,-.217],[.096,-.227],
[.003,-.396],[.005,-.402],[.007,-.4],[.009,-.395],[.008,-.42],[.011,-.425],[.012,-.415],[.0145,-.426],[.015,-.425],[.02,-.385],[.022,-.388],[.023,-.39],[.025,-.405],[.027,-.4],[.029,-.41],[.017,-.383],[.018,-.388],[.014,-.385],[.014,-.397],[.026,-.387],[.03,-.39],[.024,-.378],[.026,-.372],[.028,-.372],[.03,-.375],[.032,-.372],[.034,-.385],[.036,-.38],[.03,-.385],[.033,-.362],[.03,-.355],[.028,-.35],[.025,-.352],[.027,-.342],[.03,-.34],[.032,-.345],[.034,-.352],[.036,-.345],[.038,-.35],[.04,-.345],[.042,-.36],[.04,-.368],[.05,-.375],[.053,-.365],[.056,-.355],[.055,-.35],[.052,-.35],[.05,-.34],[.048,-.332],[.052,-.328],[.055,-.323],[.045,-.335],[.042,-.33],[.04,-.325],[.038,-.33],[.036,-.338],[.035,-.315],[.037,-.31],[.04,-.305],[.042,-.298],[.045,-.31],[.047,-.305],[.05,-.3],[.052,-.295],[.055,-.29],[.058,-.295],[.06,-.293],[.056,-.31],[.058,-.31],[.06,-.3],[.062,-.282],[.065,-.27],[.067,-.26],[.068,-.268],[.07,-.27],[.072,-.278],[.075,-.258],[.078,-.25],[.082,-.24],[.075,-.24],[.08,-.228],[.085,-.22],[.088,-.215],[.075,-.212],[.07,-.215],[.065,-.218],[.06,-.22],[.045,-.265],[.048,-.27],[.05,-.278],[.055,-.265],[.06,-.255],[.063,-.25],[.067,-.245],[.005,-.355],[.008,-.365],[.01,-.37],[.02,-.35],[.022,-.34],[.024,-.325],[.026,-.32],[.015,-.37],[.012,-.295],
[.026,-.367],[.028,-.365],[.03,-.368],[.032,-.366],[.034,-.368],[.027,-.377],[.029,-.38],[.031,-.377],[.033,-.38],[.035,-.372],[.037,-.368],[.039,-.362],[.041,-.35],[.043,-.345],[.045,-.347],[.047,-.34],[.038,-.315],[.04,-.318],[.042,-.32],[.044,-.322],[.046,-.314],[.048,-.3],[.05,-.31],[.052,-.305],[.054,-.3],[.056,-.284],[.058,-.27],[.06,-.275],[.062,-.262],[.064,-.258],[.066,-.252],[.068,-.245],[.07,-.258],[.072,-.262],[.074,-.25],[.042,-.28],[.044,-.29],[.046,-.285],[.038,-.29],[.036,-.3],[.034,-.302],[.032,-.31],[.03,-.32],[.028,-.33],[.034,-.33],[.032,-.33]
];
const bankAllPrior: Pt[] = [[.125,-.261],[.103,-.242],[.096,-.218],[.092,-.216],[.079,-.214],[.07,-.22],[.068,-.252],[.07,-.275],[.068,-.282],[.05,-.258],[.048,-.318],[.046,-.319],[.05,-.333],[.027,-.328],[.035,-.355],[.037,-.378],[.016,-.387],[.018,-.387],[.017,-.275],[.04,-.245],[.1,-.217],[.072,-.243]];
const bankAllSearch: Pt[] = [
[.237,-.23],[.117,-.294],[.097,-.28],[.096,-.239],[.096,-.234],[.103,-.235],[.093,-.245],[.09,-.231],[.087,-.222],[.085,-.228],[.096,-.224],[.09,-.228],[.066,-.3],[.068,-.303],[.066,-.288],[.068,-.288],[.062,-.285],[.055,-.35],[.053,-.333],[.055,-.362],[.05,-.345],[.047,-.34],[.045,-.328],[.043,-.318],[.045,-.315],[.05,-.31],[.03,-.39],[.033,-.418],[.034,-.404],[.02,-.418],[.018,-.408],[.016,-.41],[.012,-.417],[.012,-.425],[.017,-.438],[.0095,-.43],[.008,-.433],[.007,-.436],[.006,-.444],[.01,-.405],[.009,-.403],[.006,-.383],[.005,-.373],[.025,-.39],[.023,-.39],[.025,-.395],[.03,-.4],[.036,-.38],[.034,-.37],[.036,-.375],[.04,-.37],[.042,-.367],[.034,-.355],[.03,-.35],[.02,-.367],[.017,-.366],
[.002,-.451],[.003,-.452],[.004,-.455],[.005,-.46],[.003,-.47],[.004,-.468],[.0015,-.477],[.003,-.478],[.004,-.475],[.003,-.483],[.003,-.486],[.0025,-.49],[.002,-.493],[.001,-.494],
[.005,-.335],[.006,-.34],[.006,-.33],[.005,-.345],[.006,-.35],[.007,-.355],[.007,-.338],[.008,-.33],[.008,-.345],[.008,-.32],[.009,-.335],[.009,-.35],[.009,-.325],[.01,-.31],[.01,-.32],[.01,-.33],[.01,-.34],[.011,-.345],[.012,-.302],[.012,-.312],[.012,-.322],[.012,-.335],[.013,-.295],[.014,-.31],[.014,-.32],[.014,-.33],[.014,-.34],[.015,-.3],[.016,-.29],[.016,-.31],[.016,-.325],[.017,-.282],[.017,-.3],[.017,-.335],[.018,-.292],[.018,-.315],[.019,-.28],[.019,-.302],[.02,-.272],[.02,-.29],[.02,-.31],[.02,-.325],[.021,-.28],[.021,-.298],[.022,-.27],[.022,-.288],[.022,-.32],[.023,-.31],[.024,-.268],[.024,-.28],[.024,-.295],[.025,-.262],[.026,-.27],[.026,-.285],[.027,-.3],[.028,-.262],[.028,-.275],[.03,-.258],[.03,-.268],[.03,-.28],[.03,-.295],[.032,-.255],[.032,-.265],[.032,-.275],[.034,-.25],[.034,-.26],[.034,-.27],[.034,-.285],[.036,-.25],[.036,-.258],[.036,-.27],[.038,-.245],[.038,-.255],[.038,-.265],[.04,-.245],[.04,-.252],[.04,-.262],[.04,-.275],[.042,-.24],[.042,-.25],[.042,-.258],[.044,-.24],[.044,-.248],[.044,-.256],[.045,-.27],[.046,-.235],[.046,-.245],[.046,-.252],[.048,-.235],[.048,-.242],[.048,-.25],[.05,-.232],[.05,-.24],[.05,-.248],[.05,-.258],[.052,-.233],[.052,-.245],[.054,-.235],[.054,-.243],[.054,-.252],[.056,-.23],[.056,-.238],[.056,-.248],[.056,-.262],[.058,-.232],[.058,-.242],[.06,-.23],[.06,-.238],[.06,-.248],[.062,-.228],[.062,-.236],[.062,-.245],[.064,-.226],[.064,-.235],[.066,-.228],[.066,-.24],[.068,-.225],[.068,-.235],[.07,-.232],[.072,-.238],[.074,-.222],[.075,-.23],[.078,-.218],[.08,-.222],[.082,-.218],[.084,-.222],
[.0075,-.327],[.0085,-.34],[.0095,-.315],[.0105,-.325],[.011,-.305],[.0115,-.332],[.0125,-.31],[.013,-.327],[.0135,-.305],[.0145,-.302],[.0145,-.316],[.015,-.335],[.0155,-.295],[.0155,-.32],[.016,-.305],[.0165,-.285],[.0165,-.315],[.017,-.328],[.0175,-.295],[.018,-.3],[.0185,-.286],[.0185,-.322],[.019,-.31],[.0195,-.295],[.02,-.28],[.0205,-.302],[.021,-.315],[.0215,-.29],[.022,-.275],[.0225,-.305],[.023,-.285],[.0235,-.275],[.024,-.3],[.0245,-.29],[.025,-.27],[.0255,-.28],[.026,-.296],[.0265,-.265],[.027,-.275],[.0275,-.285],[.028,-.268],[.029,-.262],[.029,-.272],[.029,-.285],[.031,-.26],[.031,-.272],[.031,-.282],[.033,-.255],[.033,-.265],[.033,-.275],[.035,-.255],[.035,-.265],[.037,-.252],[.037,-.262],[.037,-.275],[.039,-.248],[.039,-.258],[.039,-.27],[.041,-.245],[.041,-.255],[.041,-.265],[.043,-.242],[.043,-.252],[.043,-.262],[.045,-.24],[.045,-.25],[.045,-.258],[.047,-.238],[.047,-.248],[.047,-.258],[.049,-.236],[.049,-.245],[.049,-.255],[.051,-.236],[.051,-.25],[.053,-.24],[.053,-.25],[.055,-.232],[.055,-.242],[.057,-.234],[.057,-.245],[.059,-.228],[.059,-.238],[.059,-.25],[.061,-.232],[.061,-.242],[.063,-.23],[.063,-.24],[.065,-.232],[.067,-.23],[.069,-.228],[.071,-.226],[.073,-.23],[.076,-.224],[.078,-.228],[.044,-.315],[.046,-.33],[.048,-.338]
];

// ---------- Tick values ----------
const adultSelXTicks = [0.1, 0.12, 0.14, 0.16, 0.18, 0.2];
const adultSelYTicks = [-0.275, -0.3, -0.325, -0.35, -0.375, -0.4, -0.425, -0.45, -0.475];
const bankSelXTicks = [0, 0.05, 0.1, 0.15, 0.2];
const bankSelYTicks = [-0.2, -0.25, -0.3, -0.35, -0.4, -0.45];
const compasXTicks = [0, 0.025, 0.05, 0.075, 0.1, 0.125, 0.15, 0.175];
const compasYTicks = [-0.5, -0.525, -0.55, -0.575, -0.6, -0.625, -0.65, -0.675];
const adultAllXTicks = [0.12, 0.14, 0.16, 0.18, 0.2, 0.22];
const adultAllYTicks = [-0.3, -0.325, -0.35, -0.375, -0.4, -0.425, -0.45];
const bankAllXTicks = [0, 0.05, 0.1, 0.15, 0.2];
const bankAllYTicks = [-0.2, -0.25, -0.3, -0.35, -0.4, -0.45, -0.5];

const FONT = '"DejaVu Sans"';
const AXIS_W = 86;
const AXIS_H = 46;
const TITLE_H = 24;
const PAD_R = 24;

type PanelCfg = {
  title: string; left: number; top: number; w: number; h: number;
  xr: number[]; yr: number[]; xt: number[]; yt: number[]; xd: number; yd: number; yTitleOff: number;
  base: Pt[]; random: Pt[]; prior: Pt[]; search: Pt[]; frontier: Pt[];
};

const panels: PanelCfg[] = [
  { title: "Adult", left: 86, top: 53, w: 327, h: 269, xr: [0.08902, 0.2012], yr: [-0.4943, -0.2742], xt: adultSelXTicks, yt: adultSelYTicks, xd: 2, yd: 3, yTitleOff: 68.3, base: adultSelBase, random: adultSelRandom, prior: adultSelPrior, search: adultSelSearch, frontier: adultSelFrontier },
  { title: "Bank", left: 500, top: 53, w: 327, h: 269, xr: [-0.0059, 0.2267], yr: [-0.4773, -0.163], xt: bankSelXTicks, yt: bankSelYTicks, xd: 2, yd: 2, yTitleOff: 61, base: bankSelBase, random: bankSelRandom, prior: bankSelPrior, search: bankSelSearch, frontier: bankSelFrontier },
  { title: "COMPAS", left: 913, top: 53, w: 327, h: 269, xr: [-0.00441, 0.1933], yr: [-0.6976, -0.483], xt: compasXTicks, yt: compasYTicks, xd: 3, yd: 3, yTitleOff: 68, base: compasBase, random: compasRandom, prior: compasPrior, search: compasSearch, frontier: compasFrontier },
  { title: "Adult", left: 86, top: 431, w: 332, h: 268, xr: [0.10925, 0.23677], yr: [-0.4657, -0.27536], xt: adultAllXTicks, yt: adultAllYTicks, xd: 2, yd: 3, yTitleOff: 68.2, base: adultAllBase, random: adultAllRandom, prior: adultAllPrior, search: adultAllSearch, frontier: adultAllFrontier },
  { title: "Bank", left: 493, top: 431, w: 332, h: 268, xr: [-0.01092, 0.24805], yr: [-0.50909, -0.16104], xt: bankAllXTicks, yt: bankAllYTicks, xd: 2, yd: 2, yTitleOff: 60.6, base: bankAllBase, random: bankAllRandom, prior: bankAllPrior, search: bankAllSearch, frontier: bankAllFrontier },
];

function triangleSprite(size: number): HTMLCanvasElement {
  const c = document.createElement("canvas");
  c.width = size + 4; c.height = size + 4;
  const g = c.getContext("2d")!;
  g.beginPath();
  g.moveTo(c.width / 2, 2); g.lineTo(c.width - 2, c.height - 2); g.lineTo(2, c.height - 2); g.closePath();
  g.fillStyle = "#ffff00"; g.fill();
  g.strokeStyle = "#111"; g.lineWidth = 0.9; g.stroke();
  return c;
}

const panelBackground = {
  id: "panelBackground",
  beforeDraw(chart: any) {
    const { ctx, chartArea: a } = chart;
    ctx.save();
    ctx.fillStyle = "#e5e5e5";
    ctx.fillRect(a.left, a.top, a.right - a.left, a.bottom - a.top);
    ctx.restore();
  },
};

const LEGEND_W = 153.5, LEGEND_H = 93.5;
const legendOrigin = (a: any) => [a.right - 6.3 - LEGEND_W, a.bottom - 5.3 - LEGEND_H];

const insetLegend = {
  id: "insetLegend",
  // The frame lies under the points, the entries over them, as in the reference.
  beforeDatasetsDraw(chart: any) {
    const { ctx, chartArea: a } = chart;
    const [x0, y0] = legendOrigin(a);
    ctx.save();
    ctx.beginPath();
    ctx.roundRect(x0, y0, LEGEND_W, LEGEND_H, 3);
    ctx.fillStyle = "rgba(229,229,229,0.8)"; ctx.fill();
    ctx.strokeStyle = "rgba(204,204,204,0.8)"; ctx.lineWidth = 1; ctx.stroke();
    ctx.restore();
  },
  afterDatasetsDraw(chart: any) {
    const { ctx, chartArea: a } = chart;
    const [x0, y0] = legendOrigin(a);
    ctx.save();
    const hx = x0 + 17.5, tx = x0 + 39;
    ctx.font = `12px ${FONT}`;
    ctx.textBaseline = "middle";
    ctx.textAlign = "left";
    chart.data.datasets.forEach((d: any, i: number) => {
      const y = y0 + 10.9 + i * 18;
      ctx.fillStyle = "#262626";
      ctx.fillText(d.label, tx, y);
      if (d.label === "Frontier") {
        ctx.beginPath(); ctx.moveTo(hx - 12.5, y); ctx.lineTo(hx + 12.5, y);
        ctx.strokeStyle = "#000"; ctx.lineWidth = 1.4; ctx.stroke();
      } else if (d.label === "Base Model") {
        ctx.drawImage(d.pointStyle, hx - d.pointStyle.width / 2, y - d.pointStyle.height / 2);
      } else {
        ctx.beginPath(); ctx.arc(hx, y, 2.6, 0, Math.PI * 2);
        ctx.fillStyle = d.backgroundColor; ctx.fill();
        ctx.strokeStyle = "rgba(0,0,0,0.8)"; ctx.lineWidth = 0.5; ctx.stroke();
      }
    });
    ctx.restore();
  },
};

const toXY = (list: Pt[]) => list.map(([x, y]) => ({ x, y }));

function Panel({ cfg }: { cfg: PanelCfg }) {
  const ref = useRef<HTMLCanvasElement>(null);
  useEffect(() => {
    const tri = triangleSprite(14);
    const dot = (label: string, color: string, data: Pt[], order: number) => ({
      type: "scatter" as const, label, data: toXY(data), order, backgroundColor: color,
      borderColor: "rgba(0,0,0,0.85)", borderWidth: 0.6, pointRadius: 2.8, pointHoverRadius: 2.8,
    });
    const chart = new Chart(ref.current!, {
      type: "scatter",
      data: {
        datasets: [
          { type: "scatter", label: "Base Model", data: toXY(cfg.base), order: 5, pointStyle: tri as any, pointRadius: 7, backgroundColor: "#ffff00", borderColor: "#222" },
          dot("Random", "#ff0000", cfg.random, 4),
          dot("Bayesian (Prior)", "#ffff00", cfg.prior, 3),
          dot("Bayesian (Search)", "#008000", cfg.search, 2),
          { type: "scatter", label: "Frontier", data: toXY(cfg.frontier), order: 1, showLine: true, pointRadius: 0, borderColor: "#000", borderWidth: 1.4, backgroundColor: "#000" },
        ] as any,
      },
      options: {
        responsive: false,
        animation: false,
        layout: { padding: { left: 0, top: 0, right: PAD_R, bottom: 0 } },
        plugins: {
          legend: { display: false },
          tooltip: { enabled: false },
          title: { display: true, text: cfg.title, color: "#000", fullSize: false, font: { family: FONT, size: 17, weight: "normal", lineHeight: 1 } as any, padding: { top: 3, bottom: 4 } },
        },
        scales: {
          x: {
            type: "linear", min: cfg.xr[0], max: cfg.xr[1],
            afterBuildTicks: (s: any) => { s.ticks = cfg.xt.map((value) => ({ value })); },
            afterFit: (s: any) => { s.height = AXIS_H; },
            border: { display: false },
            grid: { color: "#ffffff", lineWidth: 1.2, tickColor: "#666666", tickLength: 9, tickWidth: 1 },
            ticks: { color: "#555555", font: { family: FONT, size: 12.8 }, padding: 1, maxRotation: 0, autoSkip: false, callback: (v: any) => Number(v).toFixed(cfg.xd) },
            title: { display: true, text: "Bias (W1)", color: "#555555", font: { family: FONT, size: 13.8 }, padding: { top: 0, bottom: 2.8 } },
          },
          y: {
            type: "linear", min: cfg.yr[0], max: cfg.yr[1],
            afterBuildTicks: (s: any) => { s.ticks = cfg.yt.map((value) => ({ value })); },
            afterFit: (s: any) => { s.width = AXIS_W; },
            border: { display: false },
            grid: { color: "#ffffff", lineWidth: 1.2, tickColor: "#666666", tickLength: 9, tickWidth: 1 },
            ticks: { color: "#555555", font: { family: FONT, size: 12.8 }, padding: 3, autoSkip: false, callback: (v: any) => Number(v).toFixed(cfg.yd).replace("-", "\u2212") },
            title: { display: true, text: "-Loss (deviance)", color: "#555555", font: { family: FONT, size: 14.4 }, padding: { top: AXIS_W - cfg.yTitleOff - 7.8, bottom: 0 } },
          },
        },
      } as any,
      plugins: [panelBackground, insetLegend],
    });
    return () => chart.destroy();
  }, [cfg]);
  return (
    <canvas
      ref={ref}
      width={cfg.w + AXIS_W + PAD_R}
      height={cfg.h + AXIS_H + TITLE_H}
      style={{ position: "absolute", left: cfg.left - AXIS_W, top: cfg.top - TITLE_H, display: "block" }}
    />
  );
}

const heading = (top: number): React.CSSProperties => ({
  position: "absolute", left: 0, width: 1251, top, textAlign: "center",
  font: `19px ${FONT}`, color: "#000", lineHeight: "24px", whiteSpace: "nowrap",
});

export default function App() {
  return (
    <div style={{ position: "absolute", left: 0, top: 0, width: 1236, height: 740, overflow: "hidden", background: "#fff" }}>
      <div style={heading(0)}>Predictor Rescaling - Selected Predictors (Real World)</div>
      <div style={heading(378)}>Predictor Rescaling - All Predictors (Real World)</div>
      {panels.map((p, i) => <Panel key={i} cfg={p} />)}
    </div>
  );
}
